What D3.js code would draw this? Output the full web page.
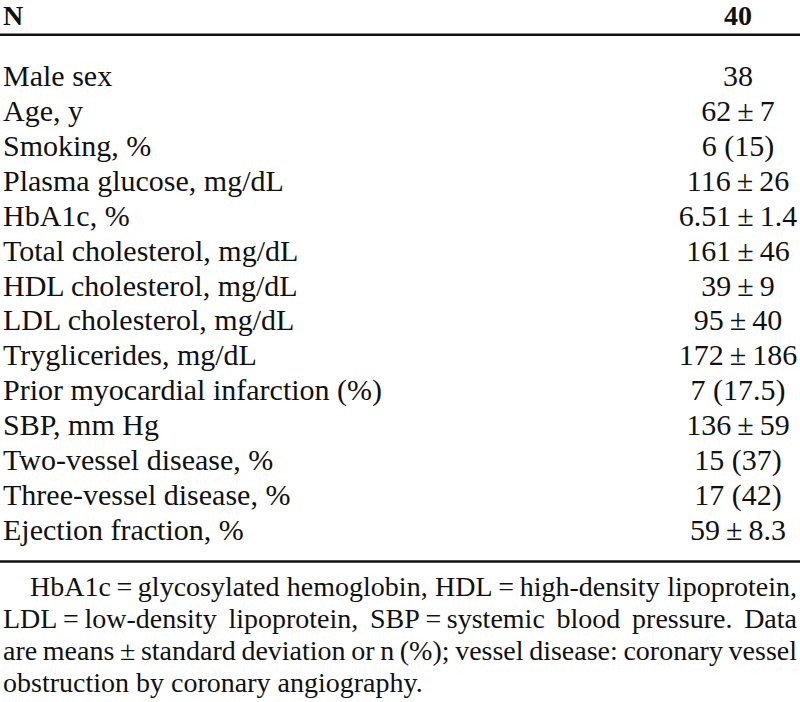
<!DOCTYPE html>
<html>
<head>
<meta charset="utf-8">
<script src="https://cdn.jsdelivr.net/npm/d3@7"></script>
<style>
  body { margin: 0; background: #fff; }
  svg { display: block; }
  text { font-family: "Liberation Serif", "Times New Roman", serif; fill: #111; }
</style>
</head>
<body>
<div id="tabela"></div>
<script>
// dados da tabela
const cabecalho = ["N", "40"];
const rotulos = [
  "Male sex", "Age, y", "Smoking, %", "Plasma glucose, mg/dL", "HbA1c, %",
  "Total cholesterol, mg/dL", "HDL cholesterol, mg/dL", "LDL cholesterol, mg/dL",
  "Tryglicerides, mg/dL", "Prior myocardial infarction (%)", "SBP, mm Hg",
  "Two-vessel disease, %", "Three-vessel disease, %", "Ejection fraction, %"
];
const valores = [
  "38", "62\u2009\u00b1\u20097", "6 (15)", "116\u2009\u00b1\u200926", "6.51\u2009\u00b1\u20091.4",
  "161\u2009\u00b1\u200946", "39\u2009\u00b1\u20099", "95\u2009\u00b1\u200940",
  "172\u2009\u00b1\u2009186", "7 (17.5)", "136\u2009\u00b1\u200959",
  "15 (37)", "17 (42)", "59\u2009\u00b1\u20098.3"
];
const notaLinhas = [
  "HbA1c\u2009=\u2009glycosylated hemoglobin, HDL\u2009=\u2009high-density lipoprotein,",
  "LDL\u2009=\u2009low-density lipoprotein, SBP\u2009=\u2009systemic blood pressure. Data",
  "are means\u2009\u00b1\u2009standard deviation or n (%); vessel disease: coronary vessel",
  "obstruction by coronary angiography."
];

const largura = 800, altura = 702;
const svg = d3.select('#tabela').append('svg')
  .attr('width', largura).attr('height', altura);

const xValor = 738; // centro da coluna de valores
const tam = 30;

// cabeçalho (um pouco menor pra não sair pelo topo)
svg.append('text').attr('x', 3).attr('y', 25)
  .attr('font-size', 28).attr('font-weight', 'bold').text(cabecalho[0]);
svg.append('text').attr('x', xValor).attr('y', 25).attr('text-anchor', 'middle')
  .attr('font-size', 28).attr('font-weight', 'bold').text(cabecalho[1]);

// linhas horizontais
svg.append('line').attr('x1', 0).attr('x2', largura).attr('y1', 34.7).attr('y2', 34.7)
  .attr('stroke', '#111').attr('stroke-width', 2.6);
svg.append('line').attr('x1', 0).attr('x2', largura).attr('y1', 561.5).attr('y2', 561.5)
  .attr('stroke', '#111').attr('stroke-width', 2.6);

// escala das linhas da tabela
const y = d3.scaleLinear().domain([0, rotulos.length - 1]).range([86, 540]);

svg.selectAll('text.rotulo').data(rotulos).join('text')
  .attr('class', 'rotulo')
  .attr('x', 3).attr('y', (d, i) => y(i))
  .attr('font-size', tam).text(d => d);

svg.selectAll('text.valor').data(valores).join('text')
  .attr('class', 'valor')
  .attr('x', xValor).attr('y', (d, i) => y(i))
  .attr('text-anchor', 'middle')
  .attr('font-size', tam).text(d => d);

// nota de rodapé, justificada (menos a última linha)
const yNota = d3.scaleLinear().domain([0, notaLinhas.length - 1]).range([596, 692]);
const tamNota = 28;
notaLinhas.forEach((linha, i) => {
  const x0 = i === 0 ? 30 : 3;
  const x1 = 797;
  const palavras = linha.split(' ');
  const g = svg.append('g');
  const ts = palavras.map(p => g.append('text').attr('font-size', tamNota)
    .attr('y', yNota(i)).text(p));
  const larg = ts.map(t => t.node().getComputedTextLength());
  const soma = d3.sum(larg);
  const ultima = i === notaLinhas.length - 1;
  const gap = ultima ? tamNota * 0.25 : (x1 - x0 - soma) / (palavras.length - 1);
  let x = x0;
  ts.forEach((t, j) => { t.attr('x', x); x += larg[j] + gap; });
});
</script>
</body>
</html>
